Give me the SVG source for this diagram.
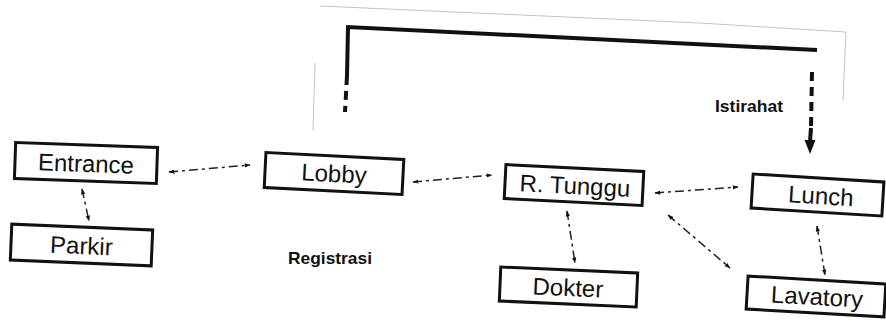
<svg xmlns="http://www.w3.org/2000/svg" width="886" height="323" viewBox="0 0 886 323">
<style>
.box{fill:#fff;stroke:#111;stroke-width:3}
.lbl{font-family:"Liberation Sans",Arial,sans-serif;font-size:24px;fill:#111;text-anchor:middle}
.note{font-family:"Liberation Sans",Arial,sans-serif;font-size:17px;font-weight:bold;fill:#111}
.con{fill:none;stroke:#222;stroke-width:1.5;stroke-dasharray:9 4 3 4;marker-start:url(#ah);marker-end:url(#ah)}
.thick{fill:none;stroke:#111;stroke-width:4}
.faint{fill:none;stroke:#999;stroke-width:1;opacity:0.6}
</style>
<defs>
<marker id="ah" viewBox="0 0 10 10" refX="9" refY="5" markerWidth="6" markerHeight="6" markerUnits="userSpaceOnUse" orient="auto-start-reverse">
<path d="M0,1.5 L10,5 L0,8.5 Z" fill="#111"/>
</marker>
</defs>
<rect width="886" height="323" fill="#fff"/>
<g id="artifacts">
<path class="faint" d="M320,6 L700,23 L846,32 L843,100"/>
<path class="faint" d="M315,63 L313,130"/>
</g>
<g id="connectors">
<path class="con" d="M82,189 L89,221"/>
<path class="con" d="M169,172 L250,165"/>
<path class="con" d="M413,182 L492,175"/>
<path class="con" d="M655,193 L738,187"/>
<path class="con" d="M567,211 L575,263"/>
<path class="con" d="M817,226 L825,275"/>
<path class="con" d="M668,215 L730,268"/>
<path class="thick" d="M347,76 L348,27 L817,50"/>
<path class="thick" stroke-dasharray="9 6" d="M347,76 L345,112"/>
<path class="thick" stroke-dasharray="9 6" d="M812,72 L811,128"/>
<path class="thick" d="M811,128 L810,142"/>
<path d="M804.5,140 L815.5,140 L810,154 Z" fill="#111"/>
</g>
<g id="entrance" transform="rotate(2 86 163)">
<rect class="box" x="15" y="145" width="142" height="36"/>
<text class="lbl" x="86" y="172">Entrance</text>
</g>
<g id="parkir" transform="rotate(2.4 81.5 245)">
<rect class="box" x="11" y="227" width="141" height="36"/>
<text class="lbl" x="81.5" y="254">Parkir</text>
</g>
<g id="lobby" transform="rotate(2.9 334 173.5)">
<rect class="box" x="265" y="156" width="138" height="35"/>
<text class="lbl" x="334" y="182">Lobby</text>
</g>
<g id="rtunggu" transform="rotate(2.9 574 185)">
<rect class="box" x="505" y="168" width="138" height="34"/>
<text class="lbl" x="575" y="194">R. Tunggu</text>
</g>
<g id="lunch" transform="rotate(3.5 817.5 195)">
<rect class="box" x="752" y="178" width="131" height="34"/>
<text class="lbl" x="821" y="204">Lunch</text>
</g>
<g id="dokter" transform="rotate(2.5 568.5 287)">
<rect class="box" x="500" y="270" width="137" height="34"/>
<text class="lbl" x="568" y="296">Dokter</text>
</g>
<g id="lavatory" transform="rotate(3.3 816 296.5)">
<rect class="box" x="747" y="280" width="138" height="33"/>
<text class="lbl" x="817" y="305">Lavatory</text>
</g>
<g id="labels">
<text class="note" x="715" y="112" textLength="68" lengthAdjust="spacingAndGlyphs">Istirahat</text>
<text class="note" x="288" y="264" textLength="84" lengthAdjust="spacingAndGlyphs">Registrasi</text>
</g>
</svg>
